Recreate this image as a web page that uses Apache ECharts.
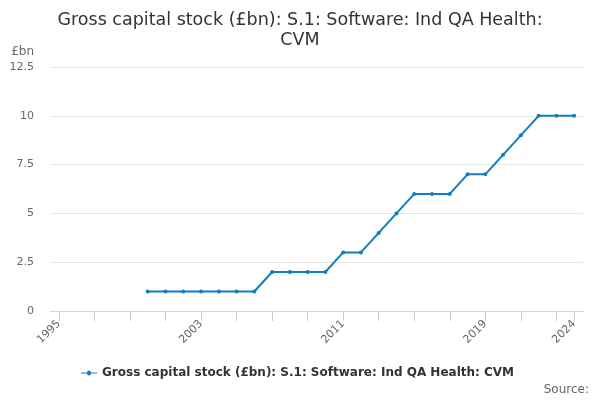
<!DOCTYPE html>
<html>
<head>
<meta charset="utf-8">
<script src="https://cdn.jsdelivr.net/npm/echarts@6/dist/echarts.min.js"></script>
<style>html,body{margin:0;padding:0;background:#fff}#c{width:600px;height:400px}</style>
</head>
<body>
<div id="c"></div>
<script>
var years = [];
for (var y = 1995; y <= 2024; y++) years.push(String(y));
var values = [null, null, null, null, null,
  1, 1, 1, 1, 1, 1, 1,
  2, 2, 2, 2,
  3, 3, 4, 5, 6, 6, 6, 7, 7, 8, 9, 10, 10, 10];
var yTicks = [0, 2.5, 5, 7.5, 10, 12.5];
var seriesName = 'Gross capital stock (£bn): S.1: Software: Ind QA Health: CVM';
var titleText = 'Gross capital stock (£bn): S.1: Software: Ind QA Health:\nCVM';

var chart = echarts.init(document.getElementById('c'), null, {renderer: 'canvas'});
var font = 'DejaVu Sans';
chart.setOption({
  animation: false,
  textStyle: {fontFamily: font},
  title: {
    text: titleText, left: 'center', top: 5,
    textStyle: {fontFamily: font, fontSize: 17.5, fontWeight: 'normal', color: '#333', lineHeight: 20}
  },
  graphic: [{
    type: 'text', right: 11, top: 384,
    style: {text: 'Source:', fontFamily: font, fontSize: 12, fill: '#666'}
  }],
  legend: {
    bottom: 16, left: 76,
    itemWidth: 16, itemHeight: 8, itemGap: 6,
    textStyle: {fontFamily: font, fontSize: 12, fontWeight: 'bold', color: '#333'},
    data: [{name: seriesName, icon: 'path://M0,3.5L6,3.5A2,2 0 1 1 10,3.5L16,3.5L16,4.5L10,4.5A2,2 0 1 1 6,4.5L0,4.5Z'}]
  },
  grid: {left: 50, right: 17, top: 67, bottom: 89, containLabel: false},
  xAxis: {
    type: 'category', data: years, boundaryGap: true,
    axisLine: {lineStyle: {color: '#ccd6eb'}},
    axisTick: {show: true, alignWithLabel: true, length: 10, lineStyle: {color: '#c0cce6', width: 1},
      interval: function (i) { return i % 2 === 0 || i === years.length - 1; }},
    axisLabel: {rotate: 45, color: '#666', fontSize: 11, fontFamily: font, margin: 11,
      interval: function (i) { return i % 8 === 0 || i === years.length - 1; }}
  },
  yAxis: {
    type: 'value', min: 0, max: 12.5, interval: 2.5,
    name: '£bn', nameLocation: 'end', nameGap: 9,
    nameTextStyle: {color: '#666', fontSize: 12, fontFamily: font, align: 'right', padding: [0, 16, 0, 0]},
    axisLine: {show: false}, axisTick: {show: false},
    axisLabel: {color: '#666', fontSize: 11, fontFamily: font, margin: 16,
      formatter: function (v) { return yTicks.indexOf(v) >= 0 ? String(v) : ''; }},
    splitLine: {lineStyle: {color: '#e6e6e6'}}
  },
  series: [{
    name: seriesName, type: 'line', data: values,
    color: '#137dc2',
    lineStyle: {width: 2, color: '#137dc2'},
    symbol: 'circle', symbolSize: 4, showSymbol: true,
    itemStyle: {color: '#137dc2'},
    connectNulls: false
  }]
});
</script>
</body>
</html>
